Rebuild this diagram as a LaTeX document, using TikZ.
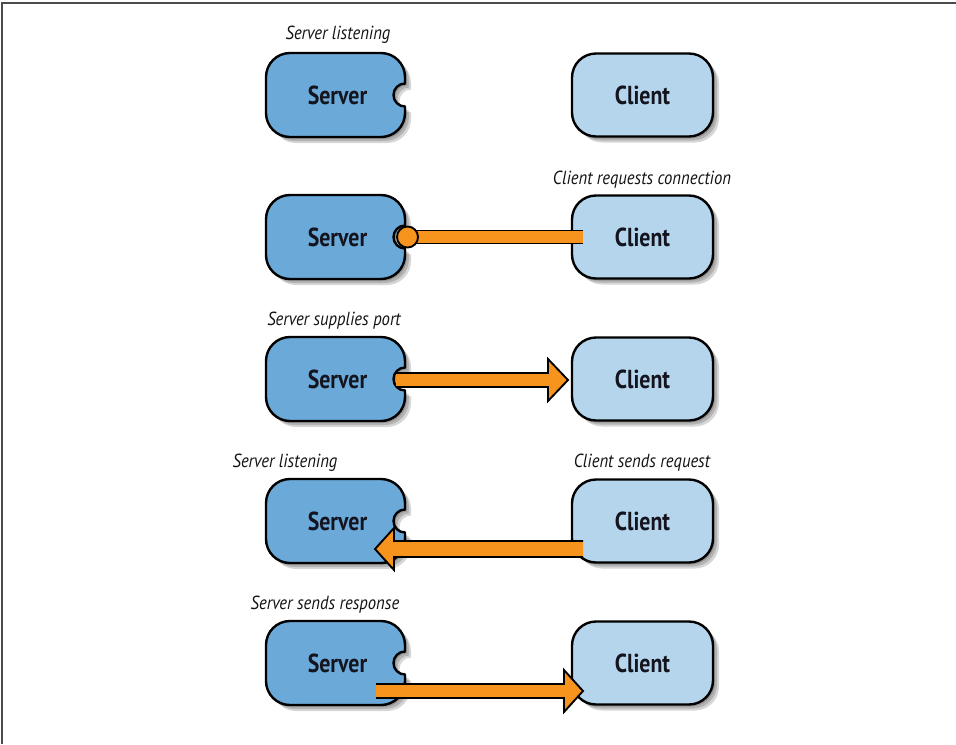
\documentclass[tikz,border=0pt]{standalone}
\usepackage{fontspec}
\setmainfont{PT Sans}
\newfontfamily\capfont{PT Sans}[FakeStretch=0.88]
\newfontfamily\boxfont{PT Sans}[FakeStretch=0.84]
\usetikzlibrary{calc}
\definecolor{srvblue}{RGB}{106,169,216}
\definecolor{cliblue}{RGB}{180,213,236}
\definecolor{arrorange}{RGB}{247,148,30}
\definecolor{txtdark}{RGB}{20,20,30}
\tikzset{
  caption/.style={font=\capfont\itshape\fontsize{14.2}{16}\selectfont, text=black!92, inner sep=0pt},
  boxtext/.style={font=\boxfont\bfseries\fontsize{19.5}{22}\selectfont, text=txtdark, inner sep=0pt},
  outline/.style={line width=1.8pt, draw=black, line join=round},
  arrowline/.style={line width=1.4pt, draw=black, line join=miter},
  shadowfill/.style={fill=black, opacity=0.16},
}
\newcommand\srvshape[1]{%
  \path[#1] (-45.5,42) -- (45.5,42) arc[start angle=90,end angle=0,radius=24]
    -- (69.5,11.5) arc[start angle=90,end angle=270,radius=11.5]
    -- (69.5,-18) arc[start angle=0,end angle=-90,radius=24]
    -- (-45.5,-42) arc[start angle=270,end angle=180,radius=24]
    -- (-69.5,18) arc[start angle=180,end angle=90,radius=24] -- cycle;}
\newcommand\clishape[1]{%
  \path[#1, rounded corners=18pt] (-70.5,-41.5) rectangle (70.5,41.5);}
\newcommand\serverbox[1]{%
  \begin{scope}[shift={(#1)}]
    \foreach \d in {2,4,6}{\begin{scope}[shift={(\d,-\d)}]\srvshape{shadowfill}\end{scope}}
    \srvshape{fill=srvblue,outline}
  \end{scope}}
\newcommand\clientbox[1]{%
  \begin{scope}[shift={(#1)}]
    \foreach \d in {2,4,6}{\begin{scope}[shift={(\d,-\d)}]\clishape{shadowfill}\end{scope}}
    \clishape{fill=cliblue,outline}
  \end{scope}}
% #1 start, #2 tip, #3 head base offset from tip (signed), #4 shaft half, #5 head half
\newcommand\fatarrow[5]{%
  \coordinate (hb) at ($(#2)+(#3,0)$);
  \fill[arrorange] ($(#1)+(0,#4)$) -- ($(hb)+(0,#4)$) -- ($(hb)+(0,#5)$) -- (#2)
     -- ($(hb)+(0,-#5)$) -- ($(hb)+(0,-#4)$) -- ($(#1)+(0,-#4)$) -- cycle;
  \draw[arrowline] ($(#1)+(0,#4)$) -- ($(hb)+(0,#4)$) -- ($(hb)+(0,#5)$) -- (#2)
     -- ($(hb)+(0,-#5)$) -- ($(hb)+(0,-#4)$) -- ($(#1)+(0,-#4)$);}
\begin{document}
\begin{tikzpicture}[x=0.75pt,y=0.75pt]
\useasboundingbox (0,0) rectangle (956,-744);
\fill[white] (0,0) rectangle (956,-744);
\draw[black!70, line width=1pt] (2,-744) -- (2,-3) -- (956,-3);

% box centres
\foreach \i/\y in {1/-95,2/-237,3/-379,4/-521,5/-663}{
  \coordinate (S\i) at (335.5,\y);
  \coordinate (C\i) at (642.5,\y);
}
\foreach \i in {1,...,5}{\serverbox{S\i}\clientbox{C\i}}

% row 2: connection request
\coordinate (knob) at (407.5,-237);
\coordinate (barend) at (583,-237);
\fill[arrorange] ($(knob)+(0,6.5)$) rectangle ($(barend)+(0,-6.5)$);
\draw[arrowline] ($(knob)+(0,6.5)$) -- ($(barend)+(0,6.5)$);
\draw[arrowline] ($(knob)+(0,-6.5)$) -- ($(barend)+(0,-6.5)$);
\filldraw[fill=arrorange, arrowline] (knob) circle[radius=10.5];

% row 3: server supplies port
\coordinate (a3s) at (396,-380);
\coordinate (a3t) at (568,-380);
\fatarrow{a3s}{a3t}{-20}{7}{21}

% row 4: client sends request
\coordinate (a4s) at (583,-549);
\coordinate (a4t) at (375,-549);
\fatarrow{a4s}{a4t}{19}{8}{21}

% row 5: server sends response
\coordinate (a5s) at (376,-691);
\coordinate (a5t) at (583,-691);
\fatarrow{a5s}{a5t}{-19}{7}{21}

% box texts
\foreach \i in {1,...,5}{
  \node[boxtext] (st\i) at ($(S\i)+(2,0)$) {Server};
  \node[boxtext] (ct\i) at (C\i) {Client};
}

% captions
\node[caption] (cap1) at (338,-35) {Server listening};
\node[caption] (cap2) at (642,-180) {Client requests connection};
\node[caption] (cap3) at (334,-321) {Server supplies port};
\node[caption] (cap4) at (285,-463) {Server listening};
\node[caption] (cap5) at (642,-463) {Client sends request};
\node[caption] (cap6) at (325,-605) {Server sends response};
\end{tikzpicture}
\end{document}
